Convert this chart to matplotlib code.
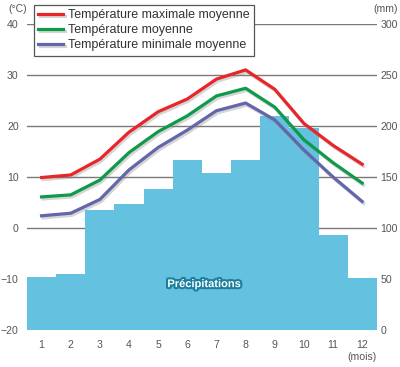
import matplotlib
matplotlib.use('Agg')
import matplotlib.pyplot as plt
import matplotlib.patheffects as pe
import numpy as np

plt.rcParams['font.family'] = ['Liberation Sans', 'DejaVu Sans']

# Data
mois = [1, 2, 3, 4, 5, 6, 7, 8, 9, 10, 11, 12]
precipitations = [52, 55, 118, 124, 138, 167, 154, 167, 210, 198, 93, 51]
temp_max = [9.9, 10.4, 13.5, 18.8, 22.8, 25.3, 29.2, 31.0, 27.2, 20.5, 16.2, 12.5]
temp_moy = [6.1, 6.5, 9.4, 14.8, 18.9, 22.0, 25.9, 27.4, 23.7, 17.3, 12.8, 8.8]
temp_min = [2.4, 2.9, 5.6, 11.4, 15.8, 19.2, 23.0, 24.5, 21.2, 15.3, 10.0, 5.2]

temp_ticks = [-20, -10, 0, 10, 20, 30, 40]
prec_ticks = [0, 50, 100, 150, 200, 250, 300]

grey = '#555555'
tsize = 7.6

fig = plt.figure(figsize=(4.0, 3.67), dpi=100)
# precipitation axis drawn first (below), temperature axis on top
ax = fig.add_axes([0.0675, 0.1008, 0.8745, 0.8338])
ax.bar(mois, precipitations, width=1.0, color='#64c2e0', zorder=2)
ax.set_xlim(0.5, 12.5)
ax.set_ylim(0, 300)
ax.set_yticks(prec_ticks)
ax.grid(axis='y', color='#7a7a7a', linewidth=1.0, zorder=1)
ax.set_axisbelow(True)
ax.set_xticks(mois)
for s in ax.spines.values():
    s.set_visible(False)

ax.text(6.58, 45, 'Précipitations', color='white', fontsize=8, fontweight='bold',
        ha='center', va='center', zorder=5,
        path_effects=[pe.withStroke(linewidth=3, foreground='#1b7f9e')])

ax2 = ax.twinx()
ax2.set_ylim(-20, 40)
ax2.set_yticks(temp_ticks)
# swap sides: temperatures on the left, precipitation on the right
ax2.yaxis.tick_left()
ax.yaxis.tick_right()
ax.tick_params(axis='both', length=0, colors=grey, labelsize=tsize)
ax.tick_params(axis='x', pad=7)
ax.tick_params(axis='y', pad=2.5)
ax2.tick_params(axis='y', length=0, colors=grey, labelsize=tsize, pad=6)
for s in ax2.spines.values():
    s.set_visible(False)

shadow = [pe.SimpleLineShadow(offset=(1, -1.5), shadow_color='#888888', alpha=0.35),
          pe.Normal()]
series = [
    (temp_max, '#e8262a', 'Température maximale moyenne'),
    (temp_moy, '#0f9a4a', 'Température moyenne'),
    (temp_min, '#6366aa', 'Température minimale moyenne'),
]
for vals, col, lab in series:
    ax2.plot(mois, vals, color=col, linewidth=2.3, label=lab, path_effects=shadow,
             solid_joinstyle='round')

leg = ax2.legend(loc='upper left', bbox_to_anchor=(0.02, 1.063), fontsize=9,
                 frameon=True, fancybox=False, edgecolor='#555555', framealpha=1,
                 handlelength=2.0, handletextpad=0.4, borderpad=0.35,
                 labelspacing=0.25, borderaxespad=0)
leg.get_frame().set_linewidth(0.9)
for t in leg.get_texts():
    t.set_color('#333333')

fig.text(0.02, 0.975, '(°C)', color=grey, fontsize=tsize, ha='left', va='center')
fig.text(0.995, 0.975, '(mm)', color=grey, fontsize=tsize, ha='right', va='center')
fig.text(0.942, 0.027, '(mois)', color=grey, fontsize=tsize, ha='right', va='center')

fig.savefig('out.png', dpi=100)
